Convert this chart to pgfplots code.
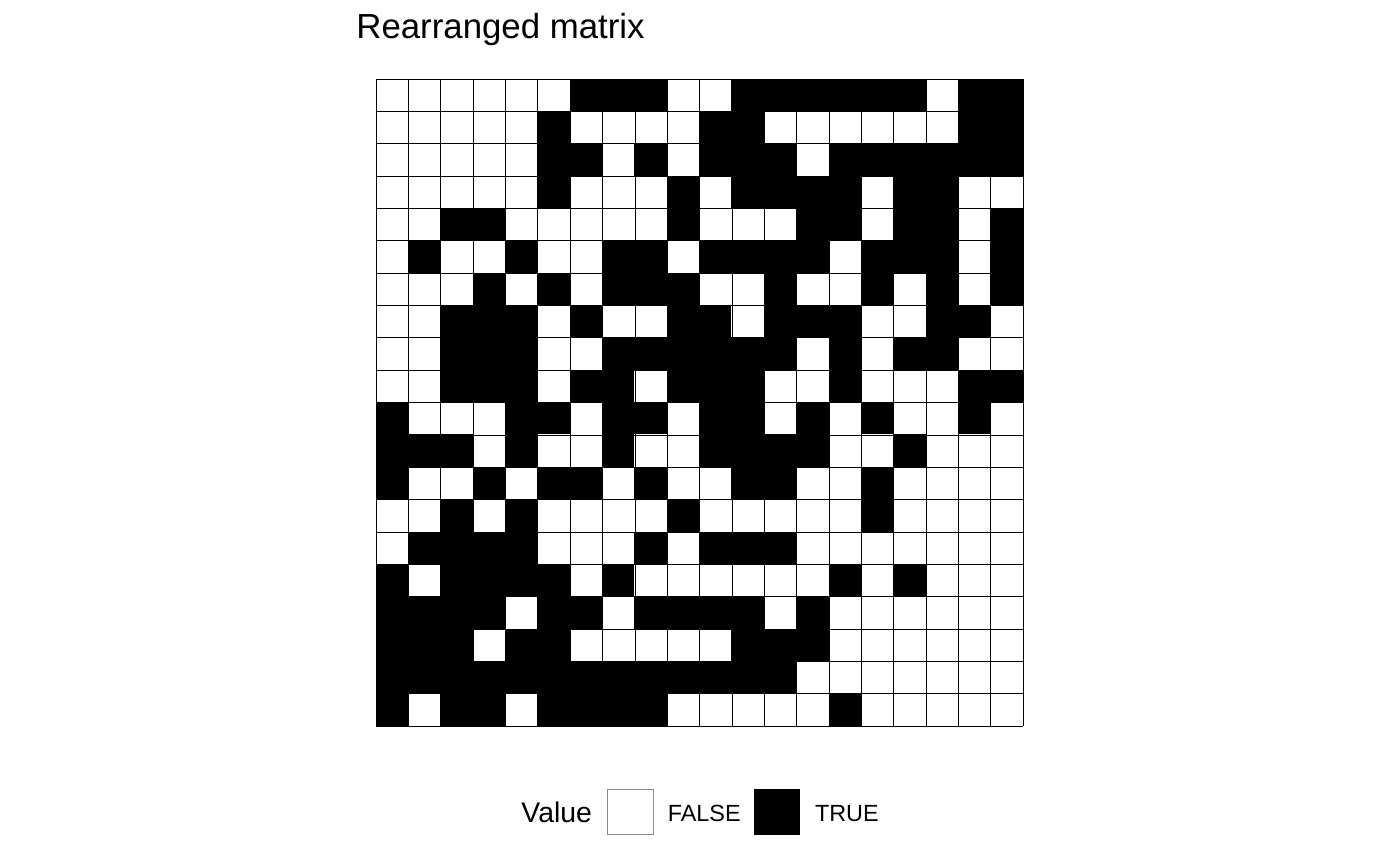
\documentclass[border=0pt]{standalone}
\usepackage{fontspec}
\setmainfont{Liberation Sans}
\usepackage{pgfplots}
\pgfplotsset{compat=1.18}
\begin{document}
\begin{tikzpicture}
\path[use as bounding box] (0pt,0pt) rectangle (700pt,432.5pt);
\begin{axis}[
  at={(188pt,69.5pt)}, anchor=south west,
  scale only axis, width=323.5pt, height=323.5pt,
  xmin=0.5, xmax=20.5, ymin=0.5, ymax=20.5,
  y dir=reverse,
  axis on top,
  axis line style={draw=none},
  xtick={0.5,1.5,...,20.5}, ytick={0.5,1.5,...,20.5},
  xticklabels={}, yticklabels={},
  major tick length=0pt,
  grid=major,
  grid style={black, line width=0.3pt},
  colormap={bw}{color=(white) color=(black)},
  point meta min=0, point meta max=1,
]
\addplot[matrix plot*, mesh/cols=20, point meta=explicit]
table[x=x, y=y, meta=v, row sep=\\]{
x y v\\
1 1 0\\ 2 1 0\\ 3 1 0\\ 4 1 0\\ 5 1 0\\ 6 1 0\\ 7 1 1\\ 8 1 1\\ 9 1 1\\ 10 1 0\\ 11 1 0\\ 12 1 1\\ 13 1 1\\ 14 1 1\\ 15 1 1\\ 16 1 1\\ 17 1 1\\ 18 1 0\\ 19 1 1\\ 20 1 1\\
1 2 0\\ 2 2 0\\ 3 2 0\\ 4 2 0\\ 5 2 0\\ 6 2 1\\ 7 2 0\\ 8 2 0\\ 9 2 0\\ 10 2 0\\ 11 2 1\\ 12 2 1\\ 13 2 0\\ 14 2 0\\ 15 2 0\\ 16 2 0\\ 17 2 0\\ 18 2 0\\ 19 2 1\\ 20 2 1\\
1 3 0\\ 2 3 0\\ 3 3 0\\ 4 3 0\\ 5 3 0\\ 6 3 1\\ 7 3 1\\ 8 3 0\\ 9 3 1\\ 10 3 0\\ 11 3 1\\ 12 3 1\\ 13 3 1\\ 14 3 0\\ 15 3 1\\ 16 3 1\\ 17 3 1\\ 18 3 1\\ 19 3 1\\ 20 3 1\\
1 4 0\\ 2 4 0\\ 3 4 0\\ 4 4 0\\ 5 4 0\\ 6 4 1\\ 7 4 0\\ 8 4 0\\ 9 4 0\\ 10 4 1\\ 11 4 0\\ 12 4 1\\ 13 4 1\\ 14 4 1\\ 15 4 1\\ 16 4 0\\ 17 4 1\\ 18 4 1\\ 19 4 0\\ 20 4 0\\
1 5 0\\ 2 5 0\\ 3 5 1\\ 4 5 1\\ 5 5 0\\ 6 5 0\\ 7 5 0\\ 8 5 0\\ 9 5 0\\ 10 5 1\\ 11 5 0\\ 12 5 0\\ 13 5 0\\ 14 5 1\\ 15 5 1\\ 16 5 0\\ 17 5 1\\ 18 5 1\\ 19 5 0\\ 20 5 1\\
1 6 0\\ 2 6 1\\ 3 6 0\\ 4 6 0\\ 5 6 1\\ 6 6 0\\ 7 6 0\\ 8 6 1\\ 9 6 1\\ 10 6 0\\ 11 6 1\\ 12 6 1\\ 13 6 1\\ 14 6 1\\ 15 6 0\\ 16 6 1\\ 17 6 1\\ 18 6 1\\ 19 6 0\\ 20 6 1\\
1 7 0\\ 2 7 0\\ 3 7 0\\ 4 7 1\\ 5 7 0\\ 6 7 1\\ 7 7 0\\ 8 7 1\\ 9 7 1\\ 10 7 1\\ 11 7 0\\ 12 7 0\\ 13 7 1\\ 14 7 0\\ 15 7 0\\ 16 7 1\\ 17 7 0\\ 18 7 1\\ 19 7 0\\ 20 7 1\\
1 8 0\\ 2 8 0\\ 3 8 1\\ 4 8 1\\ 5 8 1\\ 6 8 0\\ 7 8 1\\ 8 8 0\\ 9 8 0\\ 10 8 1\\ 11 8 1\\ 12 8 0\\ 13 8 1\\ 14 8 1\\ 15 8 1\\ 16 8 0\\ 17 8 0\\ 18 8 1\\ 19 8 1\\ 20 8 0\\
1 9 0\\ 2 9 0\\ 3 9 1\\ 4 9 1\\ 5 9 1\\ 6 9 0\\ 7 9 0\\ 8 9 1\\ 9 9 1\\ 10 9 1\\ 11 9 1\\ 12 9 1\\ 13 9 1\\ 14 9 0\\ 15 9 1\\ 16 9 0\\ 17 9 1\\ 18 9 1\\ 19 9 0\\ 20 9 0\\
1 10 0\\ 2 10 0\\ 3 10 1\\ 4 10 1\\ 5 10 1\\ 6 10 0\\ 7 10 1\\ 8 10 1\\ 9 10 0\\ 10 10 1\\ 11 10 1\\ 12 10 1\\ 13 10 0\\ 14 10 0\\ 15 10 1\\ 16 10 0\\ 17 10 0\\ 18 10 0\\ 19 10 1\\ 20 10 1\\
1 11 1\\ 2 11 0\\ 3 11 0\\ 4 11 0\\ 5 11 1\\ 6 11 1\\ 7 11 0\\ 8 11 1\\ 9 11 1\\ 10 11 0\\ 11 11 1\\ 12 11 1\\ 13 11 0\\ 14 11 1\\ 15 11 0\\ 16 11 1\\ 17 11 0\\ 18 11 0\\ 19 11 1\\ 20 11 0\\
1 12 1\\ 2 12 1\\ 3 12 1\\ 4 12 0\\ 5 12 1\\ 6 12 0\\ 7 12 0\\ 8 12 1\\ 9 12 0\\ 10 12 0\\ 11 12 1\\ 12 12 1\\ 13 12 1\\ 14 12 1\\ 15 12 0\\ 16 12 0\\ 17 12 1\\ 18 12 0\\ 19 12 0\\ 20 12 0\\
1 13 1\\ 2 13 0\\ 3 13 0\\ 4 13 1\\ 5 13 0\\ 6 13 1\\ 7 13 1\\ 8 13 0\\ 9 13 1\\ 10 13 0\\ 11 13 0\\ 12 13 1\\ 13 13 1\\ 14 13 0\\ 15 13 0\\ 16 13 1\\ 17 13 0\\ 18 13 0\\ 19 13 0\\ 20 13 0\\
1 14 0\\ 2 14 0\\ 3 14 1\\ 4 14 0\\ 5 14 1\\ 6 14 0\\ 7 14 0\\ 8 14 0\\ 9 14 0\\ 10 14 1\\ 11 14 0\\ 12 14 0\\ 13 14 0\\ 14 14 0\\ 15 14 0\\ 16 14 1\\ 17 14 0\\ 18 14 0\\ 19 14 0\\ 20 14 0\\
1 15 0\\ 2 15 1\\ 3 15 1\\ 4 15 1\\ 5 15 1\\ 6 15 0\\ 7 15 0\\ 8 15 0\\ 9 15 1\\ 10 15 0\\ 11 15 1\\ 12 15 1\\ 13 15 1\\ 14 15 0\\ 15 15 0\\ 16 15 0\\ 17 15 0\\ 18 15 0\\ 19 15 0\\ 20 15 0\\
1 16 1\\ 2 16 0\\ 3 16 1\\ 4 16 1\\ 5 16 1\\ 6 16 1\\ 7 16 0\\ 8 16 1\\ 9 16 0\\ 10 16 0\\ 11 16 0\\ 12 16 0\\ 13 16 0\\ 14 16 0\\ 15 16 1\\ 16 16 0\\ 17 16 1\\ 18 16 0\\ 19 16 0\\ 20 16 0\\
1 17 1\\ 2 17 1\\ 3 17 1\\ 4 17 1\\ 5 17 0\\ 6 17 1\\ 7 17 1\\ 8 17 0\\ 9 17 1\\ 10 17 1\\ 11 17 1\\ 12 17 1\\ 13 17 0\\ 14 17 1\\ 15 17 0\\ 16 17 0\\ 17 17 0\\ 18 17 0\\ 19 17 0\\ 20 17 0\\
1 18 1\\ 2 18 1\\ 3 18 1\\ 4 18 0\\ 5 18 1\\ 6 18 1\\ 7 18 0\\ 8 18 0\\ 9 18 0\\ 10 18 0\\ 11 18 0\\ 12 18 1\\ 13 18 1\\ 14 18 1\\ 15 18 0\\ 16 18 0\\ 17 18 0\\ 18 18 0\\ 19 18 0\\ 20 18 0\\
1 19 1\\ 2 19 1\\ 3 19 1\\ 4 19 1\\ 5 19 1\\ 6 19 1\\ 7 19 1\\ 8 19 1\\ 9 19 1\\ 10 19 1\\ 11 19 1\\ 12 19 1\\ 13 19 1\\ 14 19 0\\ 15 19 0\\ 16 19 0\\ 17 19 0\\ 18 19 0\\ 19 19 0\\ 20 19 0\\
1 20 1\\ 2 20 0\\ 3 20 1\\ 4 20 1\\ 5 20 0\\ 6 20 1\\ 7 20 1\\ 8 20 1\\ 9 20 1\\ 10 20 0\\ 11 20 0\\ 12 20 0\\ 13 20 0\\ 14 20 0\\ 15 20 1\\ 16 20 0\\ 17 20 0\\ 18 20 0\\ 19 20 0\\ 20 20 0\\
};
\end{axis}
% title
\node[anchor=base west, inner sep=0pt, font=\fontsize{17.4}{20}\selectfont] at (178pt,413pt) {Rearranged matrix};
% legend
\node[anchor=base west, inner sep=0pt, font=\fontsize{14.2}{16}\selectfont] at (260.5pt,21pt) {Value};
\draw[draw=black!45, line width=0.5pt, fill=white] (303.85pt,15pt) rectangle (326.65pt,37.5pt);
\node[anchor=base west, inner sep=0pt, font=\fontsize{11.7}{13}\selectfont] at (333.7pt,21.6pt) {FALSE};
\draw[draw=black, line width=0.5pt, fill=black] (377.15pt,15pt) rectangle (399.65pt,37.5pt);
\node[anchor=base west, inner sep=0pt, font=\fontsize{11.7}{13}\selectfont] at (407.3pt,21.6pt) {TRUE};
\end{tikzpicture}
\end{document}
